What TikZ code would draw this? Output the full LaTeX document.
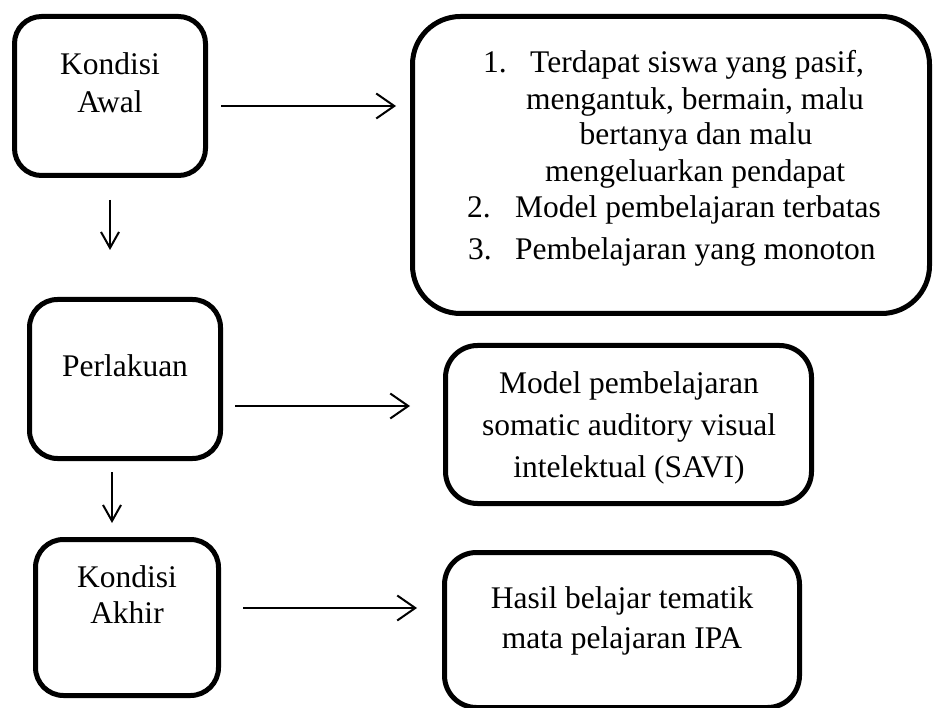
\documentclass[tikz,border=0pt]{standalone}
\usepackage{fontspec}
\setmainfont{Liberation Serif}
\usetikzlibrary{arrows.meta}
\tikzset{
  box/.style={draw=black, line width=5pt, rounded corners=#1, inner sep=0pt},
  txt/.style={anchor=base, inner sep=0pt, font=\fontsize{31.5}{37}\selectfont},
  txtw/.style={anchor=base west, inner sep=0pt, font=\fontsize{31.5}{37}\selectfont},
  harr/.style={line width=2pt, -{Straight Barb[length=18pt,width=25pt,line width=2pt]}},
  varr/.style={line width=2pt, -{Straight Barb[length=16pt,width=18pt,line width=2pt]}}
}
\begin{document}
\begin{tikzpicture}[x=1pt,y=-1pt]
\useasboundingbox[fill=white] (0,0) rectangle (934,708);

% boxes
\node[box=27pt, minimum width=191pt, minimum height=159pt] (awal) at (110,96) {};
\node[box=48pt, minimum width=517pt, minimum height=297pt] (masalah) at (671,165) {};
\node[box=28pt, minimum width=191pt, minimum height=159pt] (perlakuan) at (125,379) {};
\node[box=28pt, minimum width=183pt, minimum height=156pt] (akhir) at (127,617.5) {};
\node[box=32pt, minimum width=366pt, minimum height=158pt] (savi) at (628.5,424.5) {};
\node[box=32pt, minimum width=355pt, minimum height=155pt] (hasil) at (622,630) {};

% texts left
\node[txt] (t1a) at (110,75) {Kondisi};
\node[txt] (t1b) at (110,113) {Awal};
\node[txt] (t2) at (125,377) {Perlakuan};
\node[txt] (t3a) at (127,587) {Kondisi};
\node[txt] (t3b) at (127,623) {Akhir};

% texts big box
\node[txtw] (n1) at (483,73) {1.};
\node[txtw] (l1) at (530,73) {Terdapat siswa yang pasif,};
\node[txt] (l2) at (695,110) {mengantuk, bermain, malu};
\node[txt] (l3) at (696,145) {bertanya dan malu};
\node[txt] (l4) at (695,182) {mengeluarkan pendapat};
\node[txtw] (n2) at (467,218) {2.};
\node[txtw] (l5) at (515,218) {Model pembelajaran terbatas};
\node[txtw] (n3) at (468,260) {3.};
\node[txtw] (l6) at (515,260) {Pembelajaran yang monoton};

% texts SAVI
\node[txt] (s1) at (629,393) {Model pembelajaran};
\node[txt] (s2) at (629,435) {somatic auditory visual};
\node[txt] (s3) at (629,477) {intelektual (SAVI)};

% texts hasil
\node[txt] (h1) at (622,608) {Hasil belajar tematik};
\node[txt] (h2) at (622,648) {mata pelajaran IPA};

% connector endpoints
\coordinate (a1s) at (221,106);
\coordinate (a1e) at (396,106);
\coordinate (a2s) at (235,406);
\coordinate (a2e) at (410,406);
\coordinate (a3s) at (243,608);
\coordinate (a3e) at (417,608);
\coordinate (d1s) at (110,200);
\coordinate (d1e) at (110,250);
\coordinate (d2s) at (112,472);
\coordinate (d2e) at (112,523);

\draw[harr] (a1s) -- (a1e);
\draw[harr] (a2s) -- (a2e);
\draw[harr] (a3s) -- (a3e);
\draw[varr] (d1s) -- (d1e);
\draw[varr] (d2s) -- (d2e);
\end{tikzpicture}
\end{document}
